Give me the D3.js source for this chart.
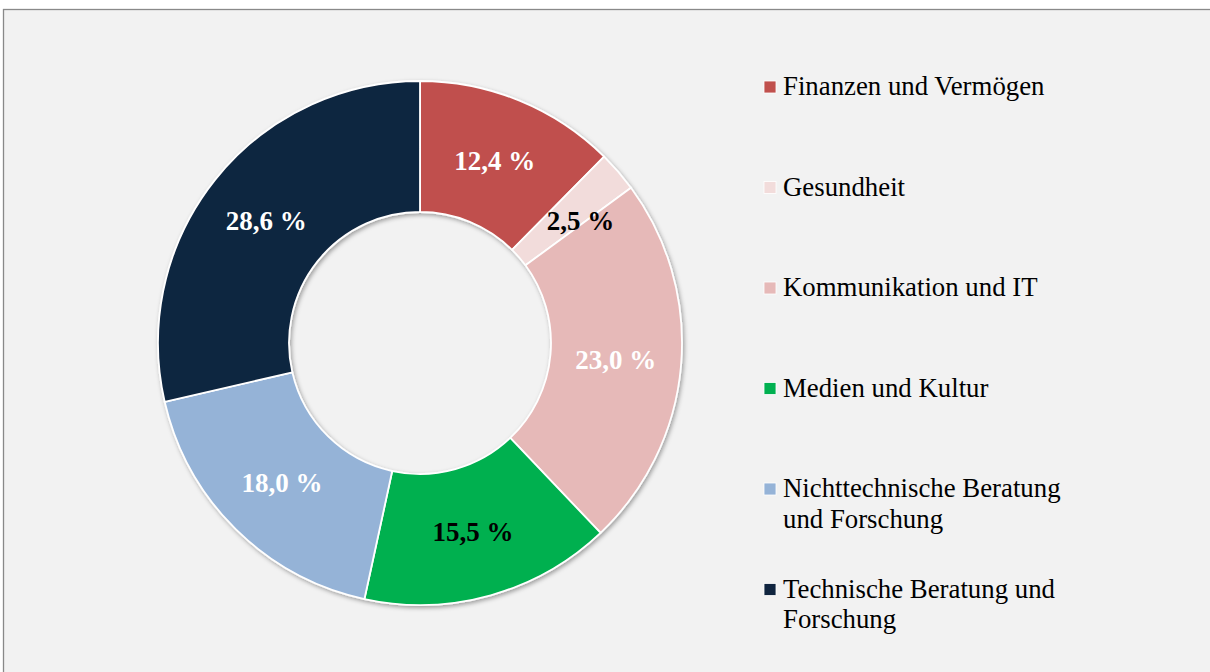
<!DOCTYPE html>
<html>
<head>
<meta charset="utf-8">
<script src="https://cdn.jsdelivr.net/npm/d3@7"></script>
<style>
  body { margin: 0; background: #fff; }
  svg { display: block; }
  text { font-family: "Liberation Serif", "Times New Roman", serif; }
</style>
</head>
<body>
<svg class="chart"></svg>
<script>
// chart data
var categories = ["Finanzen und Vermögen", "Gesundheit", "Kommunikation und IT",
                  "Medien und Kultur", "Nichttechnische Beratung und Forschung",
                  "Technische Beratung und Forschung"];
var values = [12.4, 2.5, 23.0, 15.5, 18.0, 28.6];
var colors = ["#c0504d", "#f2dcdb", "#e6b9b8", "#00b050", "#95b3d7", "#10253f"];
var labelColors = ["#fff", "#000", "#fff", "#000", "#fff", "#fff"];
// legend lines (wrapped as in the original)
var legendLines = [["Finanzen und Vermögen"], ["Gesundheit"], ["Kommunikation und IT"],
                   ["Medien und Kultur"], ["Nichttechnische Beratung", "und Forschung"],
                   ["Technische Beratung und", "Forschung"]];

var width = 1210, height = 672;
var cx = 420, cy = 343, outerR = 262, innerR = 131;

var svg = d3.select(".chart")
    .attr("width", width)
    .attr("height", height);

// chart area background and border
svg.append("rect")
    .attr("x", 3.5)
    .attr("y", 9.5)
    .attr("width", width + 20)
    .attr("height", height + 20)
    .attr("fill", "#f2f2f2")
    .attr("stroke", "#898989")
    .attr("stroke-width", 1.3);

var defs = svg.append("defs");
defs.append("filter")
    .attr("id", "shadow")
    .attr("x", "-10%").attr("y", "-10%")
    .attr("width", "120%").attr("height", "120%")
  .append("feDropShadow")
    .attr("dx", 1.5)
    .attr("dy", 2)
    .attr("stdDeviation", 2)
    .attr("flood-color", "#000")
    .attr("flood-opacity", 0.35);

var pie = d3.pie().sort(null).value(function(d) { return d; });
var arcs = pie(values);

var arc = d3.arc().innerRadius(innerR).outerRadius(outerR);
var labelArc = d3.arc().innerRadius((innerR + outerR) / 2).outerRadius((innerR + outerR) / 2);

var g = svg.append("g")
    .attr("transform", "translate(" + cx + "," + cy + ")");

g.append("g")
    .attr("filter", "url(#shadow)")
  .selectAll("path")
  .data(arcs)
  .enter().append("path")
    .attr("d", arc)
    .attr("fill", function(d, i) { return colors[i]; })
    .attr("stroke", "#fff")
    .attr("stroke-width", 1.8)
    .attr("stroke-linejoin", "round");

// value labels
var labelOffset = [[0, 0], [12, 6], [0, 0], [0, 0], [0, 0], [0, 0]];
g.selectAll("text.value")
  .data(arcs)
  .enter().append("text")
    .attr("class", "value")
    .attr("x", function(d, i) { return labelArc.centroid(d)[0] + labelOffset[i][0]; })
    .attr("y", function(d, i) { return labelArc.centroid(d)[1] + labelOffset[i][1]; })
    .attr("dy", "0.34em")
    .attr("text-anchor", "middle")
    .attr("font-size", "27px")
    .attr("font-weight", "bold")
    .attr("fill", function(d, i) { return labelColors[i]; })
    .text(function(d) { return d3.format(".1f")(d.data).replace(".", ",") + " %"; });

// legend
var legend = svg.append("g").attr("class", "legend");
var rowY = d3.scaleLinear().domain([0, 1]).range([95, 195.5]);

var item = legend.selectAll("g")
  .data(categories)
  .enter().append("g")
    .attr("transform", function(d, i) { return "translate(0," + rowY(i) + ")"; });

item.append("rect")
    .attr("x", 764)
    .attr("y", -14)
    .attr("width", 12)
    .attr("height", 12)
    .attr("fill", function(d, i) { return colors[i]; })
    .attr("stroke", "#fff")
    .attr("stroke-width", 0.8);

item.append("text")
    .attr("x", 783)
    .attr("font-size", "26.8px")
    .attr("fill", "#000")
  .selectAll("tspan")
  .data(function(d, i) { return legendLines[i]; })
  .enter().append("tspan")
    .attr("x", 783)
    .attr("y", function(d, j) { return j * 30.5; })
    .text(function(d) { return d; });
</script>
</body>
</html>
